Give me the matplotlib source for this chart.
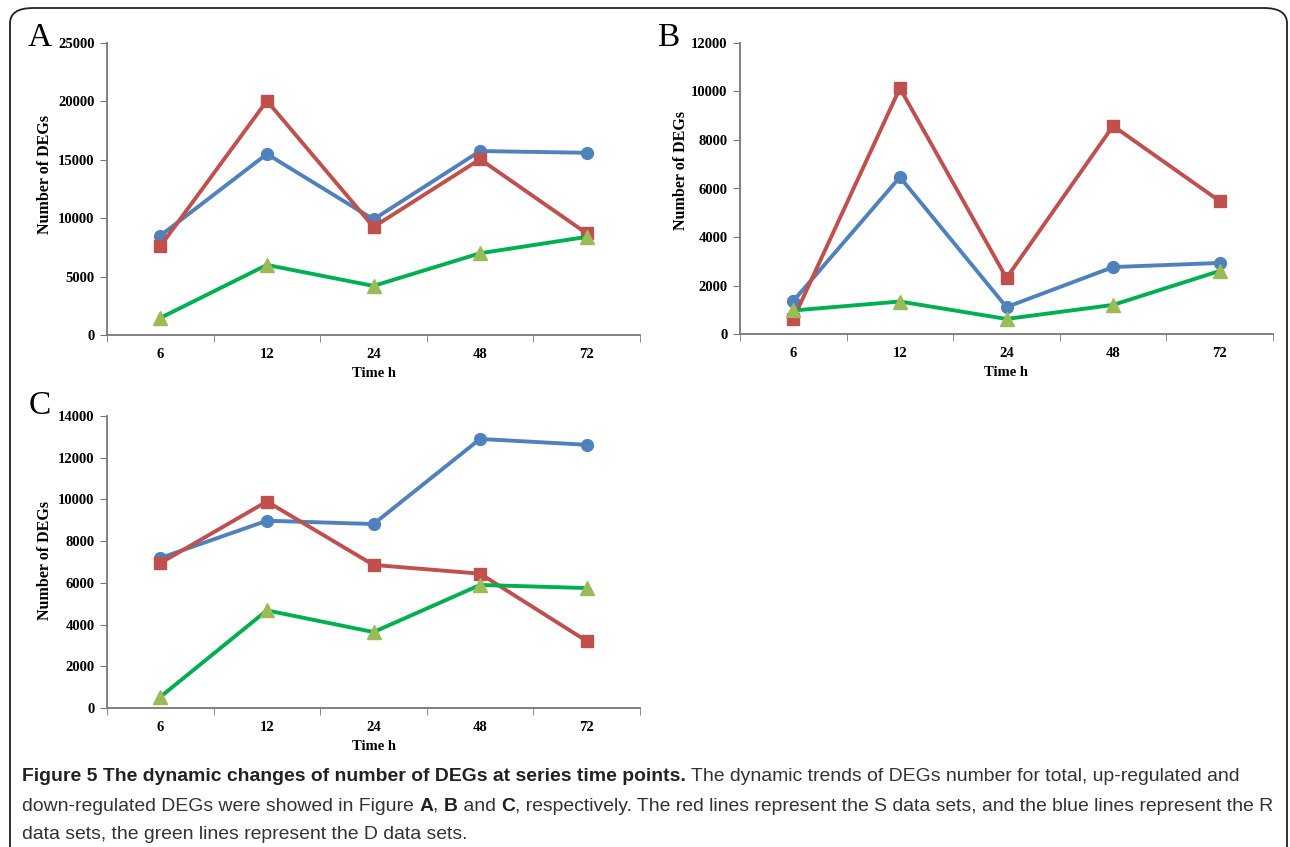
import matplotlib.pyplot as plt
from matplotlib.patches import FancyBboxPatch
from matplotlib.ticker import FixedLocator, NullFormatter

# time points (h)
times = ["6", "12", "24", "48", "72"]

# Panel A: total DEGs
a_r = [8500, 15500, 9900, 15750, 15600]
a_s = [7600, 20050, 9250, 15050, 8700]
a_d = [1460, 6000, 4200, 7000, 8400]

# Panel B: up-regulated DEGs
b_r = [1360, 6470, 1110, 2760, 2930]
b_s = [620, 10140, 2310, 8580, 5480]
b_d = [970, 1340, 620, 1200, 2600]

# Panel C: down-regulated DEGs
c_r = [7190, 8980, 8820, 12900, 12620]
c_s = [6950, 9900, 6860, 6440, 3210]
c_d = [530, 4680, 3640, 5900, 5750]

BLUE = "#4F81BD"
RED = "#C0504D"
GREEN = "#00B050"
GREEN_MK = "#9BBB59"
SERIF = "Liberation Serif"

W, H = 1290, 847
fig = plt.figure(figsize=(W / 100, H / 100), dpi=100)


def px_axes(x0, y_top, x1, y_bot):
    return fig.add_axes([x0 / W, 1 - y_bot / H, (x1 - x0) / W, (y_bot - y_top) / H])


def draw_panel(ax, r, s, d, ymax, step, letter, lx, ly, ylab_x, ylab_y):
    x = [i + 0.5 for i in range(len(times))]
    ax.plot(x, r, color=BLUE, lw=2.8, marker="o", ms=8.5, mfc=BLUE, mec=BLUE, zorder=3)
    ax.plot(x, s, color=RED, lw=2.8, marker="s", ms=8.5, mfc=RED, mec=RED, zorder=3)
    ax.plot(x, d, color=GREEN, lw=2.8, marker="^", ms=9.5, mfc=GREEN_MK, mec=GREEN_MK, zorder=3)
    ax.set_xlim(0, len(times))
    ax.set_ylim(0, ymax)
    ax.set_yticks(range(0, ymax + 1, step))
    ax.xaxis.set_major_locator(FixedLocator(x))
    ax.set_xticklabels(times)
    ax.xaxis.set_minor_locator(FixedLocator(range(len(times) + 1)))
    ax.xaxis.set_minor_formatter(NullFormatter())
    ax.tick_params(axis="x", which="major", length=0, pad=9)
    ax.tick_params(axis="x", which="minor", length=5, color="#777777", direction="out")
    ax.tick_params(axis="y", length=5, color="#777777", direction="out", pad=4)
    for lab in ax.get_xticklabels() + ax.get_yticklabels():
        lab.set_fontfamily(SERIF)
        lab.set_fontweight("bold")
        lab.set_fontsize(10.5)
    for sp in ("top", "right"):
        ax.spines[sp].set_visible(False)
    for sp in ("left", "bottom"):
        ax.spines[sp].set_color("#777777")
        ax.spines[sp].set_linewidth(1.3)
    ax.set_ylabel("Number of DEGs", fontfamily=SERIF, fontweight="bold", fontsize=11.5)
    # place y label at the reference pixel position
    ax.yaxis.set_label_coords(ylab_x, ylab_y, transform=fig.transFigure)
    ax.yaxis.label.set_va("center")
    ax.set_xlabel("Time h", fontfamily=SERIF, fontweight="bold", fontsize=10.5, labelpad=5)
    fig.text(lx / W, 1 - ly / H, letter, fontfamily=SERIF, fontsize=24,
             ha="center", va="center")


axA = px_axes(107, 43, 640, 335)
draw_panel(axA, a_r, a_s, a_d, 25000, 5000, "A", 40, 38, 45 / W, 1 - 174 / H)

axB = px_axes(740, 43, 1273, 334)
draw_panel(axB, b_r, b_s, b_d, 12000, 2000, "B", 668, 38, 681 / W, 1 - 170 / H)

axC = px_axes(107, 416, 640, 708)
draw_panel(axC, c_r, c_s, c_d, 14000, 2000, "C", 40, 406, 45 / W, 1 - 560 / H)

# rounded frame around the figure
frame = FancyBboxPatch((10 / W, -0.1), (1287 - 10) / W, (H - 8) / H + 0.1,
                       boxstyle="round,pad=0,rounding_size=0.018",
                       transform=fig.transFigure, fill=False,
                       ec="#222222", lw=1.3, clip_on=False)
fig.patches.append(frame)

# caption
CAP = ["Liberation Sans", "DejaVu Sans"]
cap_col = "#333333"
fig.canvas.draw()
renderer = fig.canvas.get_renderer()

caption = [
    (776, [("Figure 5 The dynamic changes of number of DEGs at series time points.", True),
           (" The dynamic trends of DEGs number for total, up-regulated and", False)]),
    (806, [("down-regulated DEGs were showed in Figure ", False), ("A", True), (", ", False),
           ("B", True), (" and ", False), ("C", True),
           (", respectively. The red lines represent the S data sets, and the blue lines represent the R", False)]),
    (834, [("data sets, the green lines represent the D data sets.", False)]),
]


def rich_line(y, parts, fs):
    xpos = 22
    made = []
    for txt, bold in parts:
        t = fig.text(xpos / W, 1 - y / H, txt, family=CAP, fontsize=fs,
                     fontweight="bold" if bold else "normal",
                     color="#222222" if bold else cap_col, va="center")
        made.append(t)
        xpos = t.get_window_extent(renderer).x1
    return made, xpos


# fit the widest caption line to the reference width (ends near x=1268)
fs = 13.0
widest = 0
for y, parts in caption:
    made, xend = rich_line(y, parts, fs)
    widest = max(widest, xend - 22)
    for t in made:
        t.remove()
fs = fs * (1266 - 22) / widest
for y, parts in caption:
    rich_line(y, parts, fs)

fig.savefig("out.png", dpi=100)
